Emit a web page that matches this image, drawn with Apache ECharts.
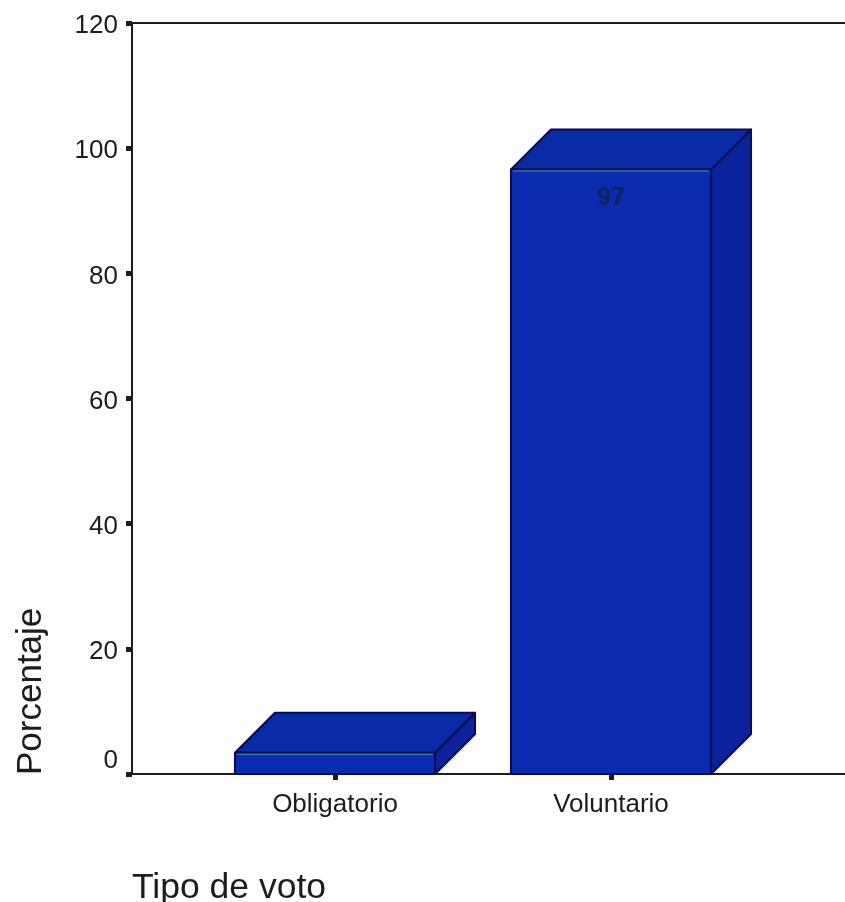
<!DOCTYPE html>
<html><head><meta charset="utf-8">
<style>html,body{margin:0;padding:0;background:#fff}#c{width:845px;height:902px}</style>
<script src="https://cdn.jsdelivr.net/npm/echarts@6/dist/echarts.min.js"></script>
</head><body><div id="c"></div>
<script>
const categories = ['Obligatorio', 'Voluntario'];
const percentages = [3.4, 96.6];
const barLabels = ['', '97'];
const yTicks = { min: 0, max: 120, interval: 20 };
const font = '"Liberation Sans", Arial, sans-serif';
const ink = '#1c1c1c';

const chart = echarts.init(document.getElementById('c'), null, { renderer: 'canvas' });

function renderBar(params, api) {
  const i = api.value(0);
  const base = api.coord([i, 0]);
  const top = api.coord([i, api.value(1)]);
  const w = api.size([1, 0])[0] * 0.725;
  const d = 40;
  const l = base[0] - w / 2, r = base[0] + w / 2, t = top[1], b = base[1];
  const edge = { stroke: '#060d50', lineWidth: 2, lineJoin: 'round' };
  const poly = (pts, fill) => ({
    type: 'polygon', shape: { points: pts },
    style: Object.assign({ fill }, edge)
  });
  const children = [
    poly([[r, b], [r + d, b - d], [r + d, t - d], [r, t]], '#0a229c'),
    poly([[l, t], [l + d, t - d], [r + d, t - d], [r, t]], '#0a2aa6'),
    poly([[l, t], [r, t], [r, b], [l, b]], '#0a2cb0'),
    { type: 'line', shape: { x1: l + 2, y1: t + 1.5, x2: r - 2, y2: t + 1.5 },
      style: { stroke: '#3f9a9a', lineWidth: 1 } }
  ];
  const text = barLabels[i];
  if (text) {
    children.push({ type: 'text', x: base[0], y: t + 29,
      style: { text, fill: '#14205e', font: 'bold 25px ' + font, align: 'center', verticalAlign: 'middle' } });
  }
  return { type: 'group', children };
}

chart.setOption({
  animation: false,
  backgroundColor: '#ffffff',
  title: {
    text: 'Tipo de voto', left: 132, top: 870, padding: 0,
    textStyle: { fontFamily: font, fontSize: 35.5, fontWeight: 'normal', color: ink }
  },
  grid: [
    { left: 132, right: 0, top: 23, bottom: 128 },
    { left: 197, width: 552, top: 23, bottom: 128 }
  ],
  xAxis: [
    { gridIndex: 0, type: 'value', position: 'bottom', min: 0, max: 1, splitLine: { show: false },
      axisTick: { show: false }, axisLabel: { show: false },
      axisLine: { show: true, onZero: false, lineStyle: { color: ink, width: 2 } } },
    { gridIndex: 0, type: 'value', position: 'top', min: 0, max: 1, splitLine: { show: false },
      axisTick: { show: false }, axisLabel: { show: false },
      axisLine: { show: true, onZero: false, lineStyle: { color: ink, width: 2 } } },
    { gridIndex: 1, type: 'category', data: categories, position: 'bottom',
      axisLine: { show: false },
      axisTick: { show: true, alignWithLabel: true, length: 6, lineStyle: { color: ink, width: 5 } },
      axisLabel: { margin: 18, fontFamily: font, fontSize: 26, color: ink } }
  ],
  yAxis: [
    { gridIndex: 0, type: 'value', min: yTicks.min, max: yTicks.max, interval: yTicks.interval,
      name: 'Porcentaje', nameLocation: 'start', nameRotate: 90, nameGap: 1,
      nameTextStyle: { fontFamily: font, fontSize: 35, color: ink, align: 'left', verticalAlign: 'bottom', padding: [0, 0, 83, 0] },
      splitLine: { show: false },
      axisLine: { show: true, lineStyle: { color: ink, width: 2 } },
      axisTick: { show: true, length: 6, lineStyle: { color: ink, width: 5 } },
      axisLabel: { margin: 14, verticalAlignMinLabel: 'bottom', formatter: '{v|{value}}',
        rich: { v: { padding: [6, 0, 0, 0], fontFamily: font, fontSize: 26, color: ink } } } },
    { gridIndex: 1, type: 'value', min: yTicks.min, max: yTicks.max, interval: yTicks.interval, show: false }
  ],
  series: [{
    type: 'custom', xAxisIndex: 2, yAxisIndex: 1, clip: false,
    coordinateSystem: 'cartesian2d',
    encode: { x: 0, y: 1 },
    data: percentages.map((v, i) => [i, v]),
    renderItem: renderBar
  }]
});
</script></body></html>
